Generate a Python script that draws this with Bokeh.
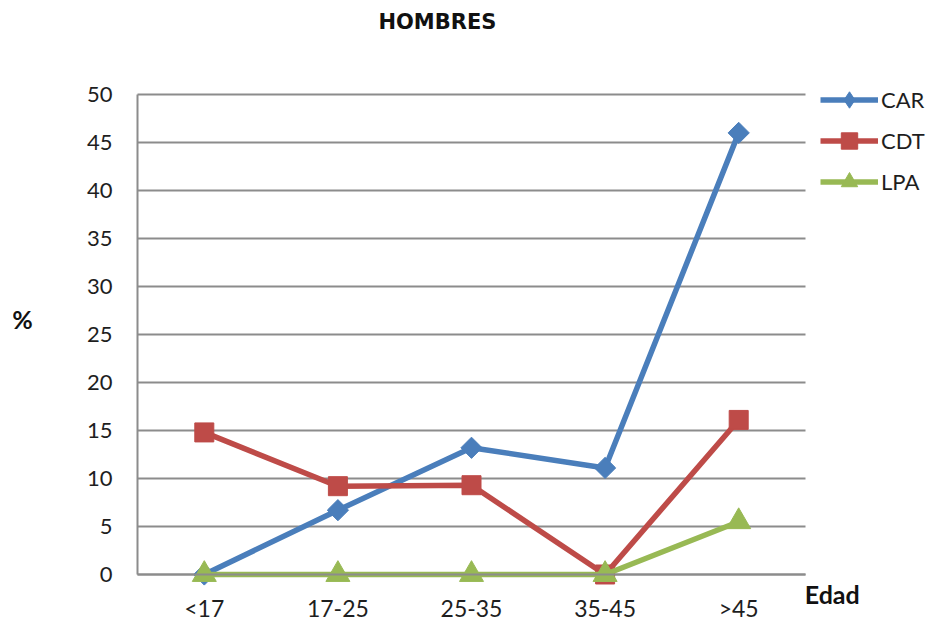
from bokeh.plotting import figure
from bokeh.models import Legend, LegendItem, Label, FactorRange, Range1d, FixedTicker, Grid
from bokeh.embed import file_html
from bokeh.resources import INLINE

categories = ["<17", "17-25", "25-35", "35-45", ">45"]
car = [0, 6.7, 13.2, 11.1, 46.0]
cdt = [14.8, 9.2, 9.3, 0, 16.1]
lpa = [0, 0, 0, 0, 5.5]
y_ticks = [0, 5, 10, 15, 20, 25, 30, 35, 40, 45, 50]

BLUE = "#4A7EBB"
RED = "#BE4B48"
GREEN = "#98B954"
GRID = "#8C8C8C"
FONT = "Lato"

p = figure(width=930, height=622,
           x_range=FactorRange(*categories, range_padding=0.9356, range_padding_units="absolute"),
           y_range=Range1d(-5, 59.79),
           output_backend="svg", toolbar_location=None,
           min_border_left=12, min_border_right=0,
           min_border_top=0, min_border_bottom=0)
p.outline_line_color = None
p.background_fill_color = "white"
p.border_fill_color = "white"

p.xgrid.grid_line_color = None
p.yaxis.ticker = FixedTicker(ticks=y_ticks)

yg = p.ygrid[0]
if "cross_bounds" in Grid.properties():
    yg.grid_line_color = GRID
    yg.grid_line_width = 2
    yg.cross_bounds = (0, 5)
    yg.bounds = (0, 50)
else:
    yg.grid_line_color = None
    p.segment(x0=[0] * len(y_ticks), x1=[5] * len(y_ticks), y0=y_ticks, y1=y_ticks,
              line_color=GRID, line_width=2)

p.yaxis.fixed_location = 0
p.xaxis.fixed_location = 0
p.yaxis.bounds = (0, 50)
p.xaxis.bounds = (0, 5)

for ax in (p.xaxis, p.yaxis):
    ax.axis_line_color = GRID
    ax.axis_line_width = 2
    ax.major_tick_line_color = None
    ax.minor_tick_line_color = None
    ax.major_tick_out = 0
    ax.major_tick_in = 0
    ax.major_label_text_font = FONT
    ax.major_label_text_color = "#1E1E1E"
p.yaxis.major_label_text_font_size = "22px"
p.xaxis.major_label_text_font_size = "23px"
p.yaxis.major_label_standoff = 25
p.xaxis.major_label_standoff = 20

r_car_l = p.line(categories, car, line_color=BLUE, line_width=5.5)
r_car_m = p.scatter(categories, car, marker="square", angle=0.7854, size=15, color=BLUE)
r_cdt_l = p.line(categories, cdt, line_color=RED, line_width=5.5)
r_cdt_m = p.scatter(categories, cdt, marker="square", size=19, color=RED)
r_lpa_l = p.line(categories, lpa, line_color=GREEN, line_width=5.5)
r_lpa_m = p.scatter(categories, lpa, marker="triangle", size=24, color=GREEN)
# hidden diamond renderer used only as the legend key for CAR
r_car_key = p.scatter(categories, car, marker="diamond", size=20, color=BLUE, visible=False)

legend = Legend(items=[
    LegendItem(label="CAR", renderers=[r_car_l, r_car_key]),
    LegendItem(label="CDT", renderers=[r_cdt_l, r_cdt_m]),
    LegendItem(label="LPA", renderers=[r_lpa_l, r_lpa_m]),
], location=(808, 420))
legend.glyph_width = 58
legend.glyph_height = 41
legend.label_text_font = FONT
legend.label_text_font_size = "22px"
legend.label_text_color = "#1E1E1E"
legend.label_standoff = 3
legend.spacing = 0
legend.padding = 0
legend.margin = 0
legend.border_line_color = None
legend.background_fill_alpha = 0
legend.inactive_fill_alpha = 0
p.add_layout(legend)

p.add_layout(Label(x=2.245, y=57.5, text="HOMBRES", text_align="center", text_baseline="middle",
                   text_font="DejaVu Sans", text_font_style="bold", text_font_size="21px",
                   text_color="#111111"))
p.add_layout(Label(x=-0.861, y=26.6, text="%", text_align="center", text_baseline="middle",
                   text_font=FONT, text_font_style="bold", text_font_size="25px", text_color="#111111"))
p.add_layout(Label(x=5.2, y=-2.0, text="Edad", text_align="center", text_baseline="middle",
                   text_font=FONT, text_font_style="bold", text_font_size="25px", text_color="#111111"))

open("out.html", "w").write(file_html(p, INLINE))
